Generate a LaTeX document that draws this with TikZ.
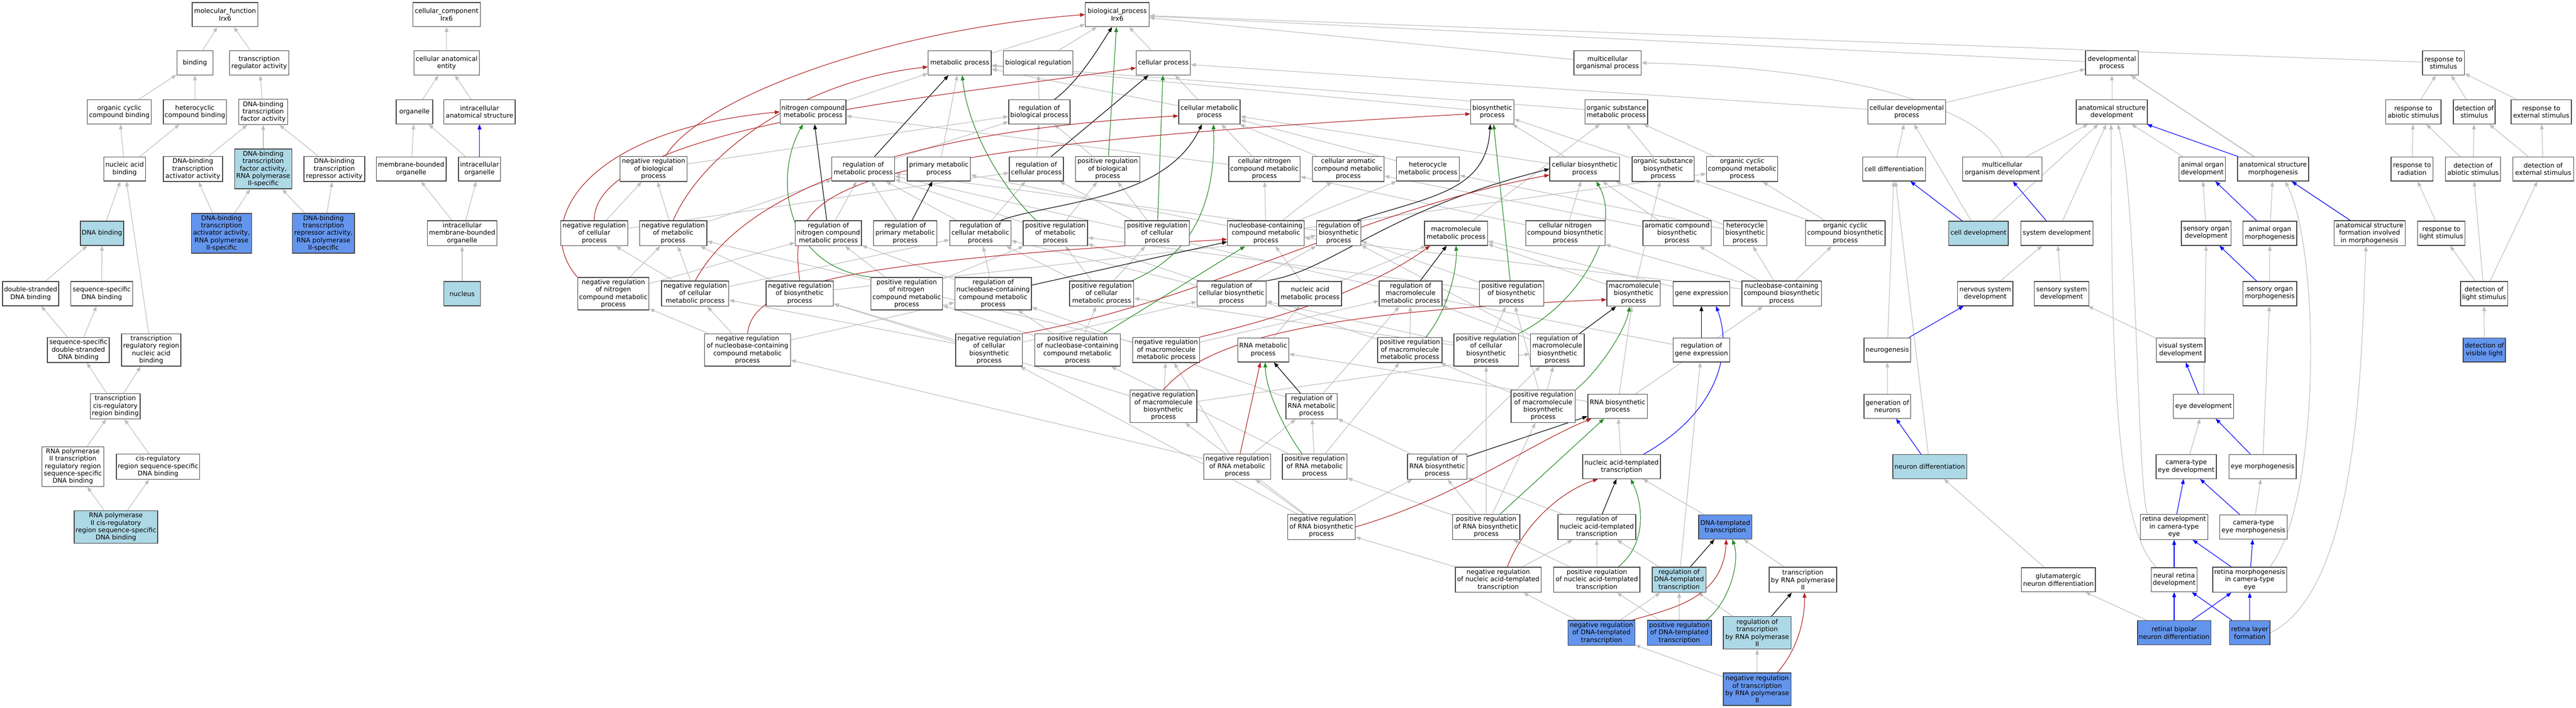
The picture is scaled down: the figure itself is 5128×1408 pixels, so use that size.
\documentclass[tikz,border=0pt]{standalone}
\usepackage{fontspec}
\setmainfont{DejaVu Sans}
\usetikzlibrary{arrows.meta}
\definecolor{edgegrey}{RGB}{190,190,190}
\definecolor{negr}{RGB}{178,34,34}
\definecolor{posg}{RGB}{34,139,34}
\definecolor{lightb}{RGB}{173,216,230}
\definecolor{cornb}{RGB}{100,149,237}
\definecolor{boxline}{RGB}{64,64,64}
\pgfdeclarelayer{bgl}
\pgfdeclarelayer{edges}
\pgfsetlayers{bgl,edges,main}
\newcommand\gonode[7]{\node[#1, minimum width=#5pt, minimum height=#6pt] (#2) at (#3,#4) {#7};}
\tikzset{
  box/.style={draw=boxline, line width=1.4pt, inner sep=0pt, align=center, fill=white, font=\fontsize{12.9}{14.7}\selectfont},
  lb/.style={box, fill=lightb},
  bb/.style={box, fill=cornb},
  isa/.style={draw=edgegrey, line width=1.2pt, -{Triangle[length=10pt,width=7.5pt]}},
  reg/.style={isa, draw=black},
  preg/.style={isa, draw=posg},
  nreg/.style={isa, draw=negr},
  partof/.style={isa, draw=blue}
}
\begin{document}
\begin{tikzpicture}[x=1pt,y=-1pt]
\begin{pgfonlayer}{bgl}
\fill[white] (0,0) rectangle (5128,1408);
\end{pgfonlayer}
\useasboundingbox (0,0) rectangle (5128,1408);
% ---------- molecular function ----------
\gonode{box}{mf}{448}{29}{131}{48}{molecular\_function\\Irx6}
\gonode{box}{binding}{388}{125}{72}{48}{binding}
\gonode{box}{trra}{516}{125}{118}{48}{transcription\\regulator activity}
\gonode{box}{occb}{237.5}{222.5}{127}{48}{organic cyclic\\compound binding}
\gonode{box}{hcb}{388}{222.5}{126}{48}{heterocyclic\\compound binding}
\gonode{box}{dbtfa}{524}{222.5}{97}{50}{DNA-binding\\transcription\\factor activity}
\gonode{box}{nab}{248}{336}{83}{48}{nucleic acid\\binding}
\gonode{box}{dbtaa}{384}{336}{118}{50}{DNA-binding\\transcription\\activator activity}
\gonode{lb}{dbtfb}{524}{336}{114}{79}{DNA-binding\\transcription\\factor activity,\\RNA polymerase\\II-specific}
\gonode{box}{dbtra}{665.5}{336}{121}{50}{DNA-binding\\transcription\\repressor activity}
\gonode{lb}{dnab}{203}{464}{86}{48}{DNA binding}
\gonode{bb}{dbtab}{441}{464}{120}{79}{DNA-binding\\transcription\\activator activity,\\RNA polymerase\\II-specific}
\gonode{bb}{dbtrb}{644}{464}{123.5}{79}{DNA-binding\\transcription\\repressor activity,\\RNA polymerase\\II-specific}
\gonode{box}{dsdb}{61}{584}{112}{48}{double-stranded\\DNA binding}
\gonode{box}{ssdb}{202.5}{584}{123}{48}{sequence-specific\\DNA binding}
\gonode{box}{ssdsdb}{156}{696}{123}{50}{sequence-specific\\double-stranded\\DNA binding}
\gonode{box}{trrnab}{301}{696}{118}{64.5}{transcription\\regulatory region\\nucleic acid\\binding}
\gonode{box}{tcrrb}{229.5}{808}{99}{50}{transcription\\cis-regulatory\\region binding}
\gonode{box}{rptrr}{145}{928}{123}{79}{RNA polymerase\\II transcription\\regulatory region\\sequence-specific\\DNA binding}
\gonode{box}{crssdb}{314.6}{928}{166}{50}{cis-regulatory\\region sequence-specific\\DNA binding}
\gonode{lb}{rpcrb}{230.7}{1048}{166}{64.5}{RNA polymerase\\II cis-regulatory\\region sequence-specific\\DNA binding}
% ---------- cellular component ----------
\gonode{box}{cc}{889}{29}{134.5}{48}{cellular\_component\\Irx6}
\gonode{box}{cae}{889}{125}{130}{48}{cellular anatomical\\entity}
\gonode{box}{organelle}{825}{222.5}{73}{48}{organelle}
\gonode{box}{iae}{954.6}{222.5}{142}{48}{intracellular\\anatomical structure}
\gonode{box}{mbo}{818.5}{336}{139}{48}{membrane-bounded\\organelle}
\gonode{box}{io}{954.6}{336}{84}{48}{intracellular\\organelle}
\gonode{box}{imbo}{920}{464}{139}{50}{intracellular\\membrane-bounded\\organelle}
\gonode{lb}{nucleus}{920}{584}{72.4}{48}{nucleus}
% ---------- biological process ----------
\gonode{box}{bp}{2224}{29}{126.7}{48}{biological\_process\\Irx6}
\gonode{box}{mp}{1910.6}{125}{125.6}{48}{metabolic process}
\gonode{box}{br}{2066.6}{125}{139}{48}{biological regulation}
\gonode{box}{cp}{2315.8}{125}{107.5}{48}{cellular process}
\gonode{box}{mop}{3200}{125}{134}{48}{multicellular\\organismal process}
\gonode{box}{dp}{4204}{125}{104.8}{48}{developmental\\process}
\gonode{box}{rts}{4864}{125}{83.4}{48}{response to\\stimulus}
\gonode{box}{ncmp}{1618.5}{222.5}{131}{48}{nitrogen compound\\metabolic process}
\gonode{box}{rbp}{2069}{222.5}{122}{48}{regulation of\\biological process}
\gonode{box}{cmp}{2407.6}{222.5}{122.3}{48}{cellular metabolic\\process}
\gonode{box}{bsp}{2970.6}{222.5}{85.6}{48}{biosynthetic\\process}
\gonode{box}{osmp}{3217.5}{222.5}{125}{48}{organic substance\\metabolic process}
\gonode{box}{cdp}{3795.7}{222.5}{155}{48}{cellular developmental\\process}
\gonode{box}{asd}{4204}{222.5}{141.5}{48}{anatomical structure\\development}
\gonode{box}{rtas}{4804}{222.5}{110.6}{48}{response to\\abiotic stimulus}
\gonode{box}{dos}{4925.4}{222.5}{83.4}{48}{detection of\\stimulus}
\gonode{box}{rtes}{5058.8}{222.5}{120}{48}{response to\\external stimulus}
% row 4
\gonode{box}{nrbp}{1301}{336}{133}{50}{negative regulation\\of biological\\process}
\gonode{box}{rmp}{1718.5}{336}{125}{48}{regulation of\\metabolic process}
\gonode{box}{pmp}{1869}{336}{126}{48}{primary metabolic\\process}
\gonode{box}{rcp}{2063}{336}{107.5}{48}{regulation of\\cellular process}
\gonode{box}{prbp}{2205}{336}{128}{50}{positive regulation\\of biological\\process}
\gonode{box}{cncmp}{2517}{336}{142}{50}{cellular nitrogen\\compound metabolic\\process}
\gonode{box}{camp}{2684}{336}{142}{50}{cellular aromatic\\compound metabolic\\process}
\gonode{box}{hcmp}{2842.4}{336}{125.6}{48}{heterocycle\\metabolic process}
\gonode{box}{cbsp}{3154.6}{336}{139}{48}{cellular biosynthetic\\process}
\gonode{box}{osbsp}{3310.8}{336}{123.4}{50}{organic substance\\biosynthetic\\process}
\gonode{box}{occmp}{3468}{336}{142}{50}{organic cyclic\\compound metabolic\\process}
\gonode{box}{cd}{3770.5}{336}{125.6}{48}{cell differentiation}
\gonode{box}{mod}{3986}{336}{158}{48}{multicellular\\organism development}
\gonode{box}{aod}{4384}{336}{92}{48}{animal organ\\development}
\gonode{box}{asm}{4525}{336}{141.6}{48}{anatomical structure\\morphogenesis}
\gonode{box}{rtr}{4801.5}{336}{83.4}{48}{response to\\radiation}
\gonode{box}{doas}{4923}{336}{110}{48}{detection of\\abiotic stimulus}
\gonode{box}{does}{5062.7}{336}{120.8}{48}{detection of\\external stimulus}
% row 5
\gonode{box}{nrcp}{1183}{464}{133}{50}{negative regulation\\of cellular\\process}
\gonode{box}{nrmp}{1340}{464}{134}{50}{negative regulation\\of metabolic\\process}
\gonode{box}{rncmp}{1649}{464}{131.7}{50}{regulation of\\nitrogen compound\\metabolic process}
\gonode{box}{rpmp}{1802}{464}{126}{50}{regulation of\\primary metabolic\\process}
\gonode{box}{rcmp}{1951.6}{464}{122}{50}{regulation of\\cellular metabolic\\process}
\gonode{box}{prmp}{2101}{464}{128}{50}{positive regulation\\of metabolic\\process}
\gonode{box}{prcp}{2303.6}{464}{128}{50}{positive regulation\\of cellular\\process}
\gonode{box}{nbcmp}{2520}{464}{153}{50}{nucleobase-containing\\compound metabolic\\process}
\gonode{box}{rbsp}{2665}{464}{88.5}{50}{regulation of\\biosynthetic\\process}
\gonode{box}{mmp}{2898.4}{464}{125.6}{48}{macromolecule\\metabolic process}
\gonode{box}{cncbsp}{3116}{464}{158}{50}{cellular nitrogen\\compound biosynthetic\\process}
\gonode{box}{acbsp}{3338.6}{464}{136}{50}{aromatic compound\\biosynthetic\\process}
\gonode{box}{hcbsp}{3474}{464}{86}{50}{heterocycle\\biosynthetic\\process}
\gonode{box}{ocbsp}{3673.4}{464}{158.5}{50}{organic cyclic\\compound biosynthetic\\process}
\gonode{lb}{celldev}{3938.6}{464}{118.5}{48}{cell development}
\gonode{box}{sd}{4094.6}{464}{144}{48}{system development}
\gonode{box}{sod}{4392}{464}{99}{48}{sensory organ\\development}
\gonode{box}{aom}{4518.5}{464}{107.4}{48}{animal organ\\morphogenesis}
\gonode{box}{asfim}{4717}{464}{141.6}{50}{anatomical structure\\formation involved\\in morphogenesis}
\gonode{box}{rtls}{4859.8}{464}{94}{48}{response to\\light stimulus}
% row 6
\gonode{box}{nrncmp}{1221}{584}{142}{64.5}{negative regulation\\of nitrogen\\compound metabolic\\process}
\gonode{box}{nrcmp}{1384}{584}{134}{50}{negative regulation\\of cellular\\metabolic process}
\gonode{box}{nrbsp}{1592}{584}{134}{50}{negative regulation\\of biosynthetic\\process}
\gonode{box}{prncmp}{1805}{584}{142.6}{64.5}{positive regulation\\of nitrogen\\compound metabolic\\process}
\gonode{box}{rnbcmp}{1977}{584}{152.5}{64.5}{regulation of\\nucleobase-containing\\compound metabolic\\process}
\gonode{box}{prcmp}{2193}{584}{128}{50}{positive regulation\\of cellular\\metabolic process}
\gonode{box}{rcbsp}{2451.7}{584}{138}{50}{regulation of\\cellular biosynthetic\\process}
\gonode{box}{name}{2608}{584}{125}{48}{nucleic acid\\metabolic process}
\gonode{box}{rmmp}{2808}{584}{125}{50}{regulation of\\macromolecule\\metabolic process}
\gonode{box}{prbsp}{3009}{584}{128}{50}{positive regulation\\of biosynthetic\\process}
\gonode{box}{mbsp}{3252}{584}{106.4}{50}{macromolecule\\biosynthetic\\process}
\gonode{box}{ge}{3387}{584}{112.6}{48}{gene expression}
\gonode{box}{nbcbsp}{3546.7}{584}{158.5}{50}{nucleobase-containing\\compound biosynthetic\\process}
\gonode{box}{nsd}{3952}{584}{110}{48}{nervous system\\development}
\gonode{box}{ssd}{4104}{584}{109}{48}{sensory system\\development}
\gonode{box}{som}{4518.5}{584}{107.4}{48}{sensory organ\\morphogenesis}
\gonode{box}{dols}{4945}{584}{93.5}{48}{detection of\\light stimulus}
% row 7
\gonode{box}{nrnbcmp}{1488}{696}{171}{64.5}{negative regulation\\of nucleobase-containing\\compound metabolic\\process}
\gonode{box}{nrcbsp}{1969}{696}{133}{64.5}{negative regulation\\of cellular\\biosynthetic\\process}
\gonode{box}{prnbcmp}{2145}{696}{170.6}{64.5}{positive regulation\\of nucleobase-containing\\compound metabolic\\process}
\gonode{box}{nrmms}{2321.5}{696}{133}{50}{negative regulation\\of macromolecule\\metabolic process}
\gonode{box}{rnamp}{2514.5}{696}{101.5}{48}{RNA metabolic\\process}
\gonode{box}{prmms}{2806.5}{696}{128}{50}{positive regulation\\of macromolecule\\metabolic process}
\gonode{box}{prcbsp}{2958.6}{696}{129}{64.5}{positive regulation\\of cellular\\biosynthetic\\process}
\gonode{box}{rmbsp}{3100}{696}{107.5}{64.5}{regulation of\\macromolecule\\biosynthetic\\process}
\gonode{box}{rge}{3387}{696}{112.6}{48}{regulation of\\gene expression}
\gonode{box}{neurog}{3757}{696}{93}{48}{neurogenesis}
\gonode{box}{vsd}{4341}{696}{97}{48}{visual system\\development}
\gonode{bb}{dovl}{4945.5}{696}{84}{48}{detection of\\visible light}
% row 8
\gonode{box}{nrmbs}{2316}{808}{133}{64.5}{negative regulation\\of macromolecule\\biosynthetic\\process}
\gonode{box}{rrnamp}{2611}{808}{102}{50}{regulation of\\RNA metabolic\\process}
\gonode{box}{prmbsp}{3072}{808}{128}{64.5}{positive regulation\\of macromolecule\\biosynthetic\\process}
\gonode{box}{rnabsp}{3220}{808}{118.5}{48}{RNA biosynthetic\\process}
\gonode{box}{gon}{3757}{808}{93}{48}{generation of\\neurons}
\gonode{box}{eyedev}{4386.5}{808}{120}{48}{eye development}
% row 9
\gonode{box}{nrrnamp}{2463}{928}{133}{50}{negative regulation\\of RNA metabolic\\process}
\gonode{box}{prrnamp}{2617}{928}{128.5}{50}{positive regulation\\of RNA metabolic\\process}
\gonode{box}{rrnabsp}{2861}{928}{118.5}{50}{regulation of\\RNA biosynthetic\\process}
\gonode{box}{natt}{3228}{928}{155}{48}{nucleic acid-templated\\transcription}
\gonode{lb}{nd}{3841.5}{928}{147}{48}{neuron differentiation}
\gonode{box}{ctedev}{4352}{928}{120}{48}{camera-type\\eye development}
\gonode{box}{em}{4504}{928}{134}{48}{eye morphogenesis}
% row 10
\gonode{box}{nrrnabsp}{2630.5}{1048}{134}{50}{negative regulation\\of RNA biosynthetic\\process}
\gonode{box}{prrnabsp}{2958.5}{1048}{134}{50}{positive regulation\\of RNA biosynthetic\\process}
\gonode{box}{rnatt}{3178.7}{1048}{155}{50}{regulation of\\nucleic acid-templated\\transcription}
\gonode{bb}{dtt}{3434.5}{1048}{106}{48}{DNA-templated\\transcription}
\gonode{box}{rdcte}{4328}{1048}{134}{50}{retina development\\in camera-type\\eye}
\gonode{box}{ctem}{4486}{1048}{134}{48}{camera-type\\eye morphogenesis}
% row 11
\gonode{box}{nrnatt}{2982.6}{1153}{171}{50}{negative regulation\\of nucleic acid-templated\\transcription}
\gonode{box}{prnatt}{3178.7}{1153}{171.7}{50}{positive regulation\\of nucleic acid-templated\\transcription}
\gonode{lb}{rdtt}{3342.5}{1153}{107}{50}{regulation of\\DNA-templated\\transcription}
\gonode{box}{trp}{3589}{1153}{134.4}{50}{transcription\\by RNA polymerase\\II}
\gonode{box}{gnd}{4097.5}{1153}{147}{48}{glutamatergic\\neuron differentiation}
\gonode{box}{nrd}{4328}{1153}{91}{48}{neural retina\\development}
\gonode{box}{rmcte}{4478.5}{1153}{147}{50}{retina morphogenesis\\in camera-type\\eye}
% row 12
\gonode{bb}{nrdtt}{3188}{1258.6}{133}{50}{negative regulation\\of DNA-templated\\transcription}
\gonode{bb}{prdtt}{3343}{1258.6}{128}{50}{positive regulation\\of DNA-templated\\transcription}
\gonode{lb}{rtrp}{3498}{1258.6}{134.6}{64.5}{regulation of\\transcription\\by RNA polymerase\\II}
\gonode{bb}{rbnd}{4328}{1258.6}{146}{48}{retinal bipolar\\neuron differentiation}
\gonode{bb}{rlf}{4478.5}{1258.6}{80.7}{48}{retina layer\\formation}
% row 13
\gonode{bb}{nrtrp}{3498}{1370.6}{134.6}{64.5}{negative regulation\\of transcription\\by RNA polymerase\\II}
% ---------- edges ----------
\begin{pgfonlayer}{edges}
\foreach \a/\b in {binding/mf, trra/mf, occb/binding, hcb/binding, dbtfa/trra, nab/occb, nab/hcb, dbtaa/dbtfa, dbtfb/dbtfa, dbtra/dbtfa, dnab/nab, trrnab/nab, dbtab/dbtaa, dbtab/dbtfb, dbtrb/dbtfb, dbtrb/dbtra, dsdb/dnab, ssdb/dnab, ssdsdb/dsdb, ssdsdb/ssdb, tcrrb/ssdsdb, tcrrb/trrnab, rptrr/tcrrb, crssdb/tcrrb, rpcrb/rptrr, rpcrb/crssdb,
cae/cc, organelle/cae, iae/cae, mbo/organelle, io/organelle, imbo/mbo, imbo/io, nucleus/imbo,
mp/bp, br/bp, cp/bp, mop/bp, dp/bp, rts/bp, rbp/br, cmp/mp, cmp/cp, ncmp/mp, bsp/mp, osmp/mp, pmp/mp,
nrbp/rbp, prbp/rbp, rmp/rbp, rcp/rbp, cncmp/ncmp, cncmp/cmp, camp/cmp, hcmp/cmp, cbsp/cmp, cbsp/bsp, osbsp/osmp, osbsp/bsp, occmp/osmp,
rpmp/rmp, rcmp/rmp, rcmp/rcp, prmp/rmp, prmp/prbp, prcp/rcp, prcp/prbp, nrcp/nrbp, nrcp/rcp, nrmp/nrbp, nrmp/rmp, rncmp/rmp,
nbcmp/cncmp, nbcmp/hcmp, nbcmp/camp, nbcmp/occmp, nbcmp/pmp, rbsp/rmp, mmp/osmp,
cncbsp/cncmp, cncbsp/cbsp, acbsp/camp, acbsp/cbsp, hcbsp/hcmp, hcbsp/cbsp, ocbsp/occmp, ocbsp/osbsp,
nrncmp/nrmp, nrncmp/rncmp, nrcmp/nrcp, nrcmp/nrmp, nrcmp/rcmp, nrbsp/nrmp, nrbsp/rbsp, prncmp/prmp, prncmp/rncmp, rnbcmp/rncmp, rnbcmp/rcmp, prcmp/prcp, prcmp/prmp, prcmp/rcmp, rcbsp/rcmp, rcbsp/rbsp, name/nbcmp, name/mmp, rmmp/rmp, prbsp/prmp, prbsp/rbsp, mbsp/mmp, mbsp/osbsp, ge/mmp,
nbcbsp/nbcmp, nbcbsp/cncbsp, nbcbsp/acbsp, nbcbsp/hcbsp, nbcbsp/ocbsp,
nrnbcmp/nrcmp, nrnbcmp/nrncmp, nrnbcmp/rnbcmp, nrcbsp/nrcmp, nrcbsp/nrbsp, nrcbsp/rcbsp, prnbcmp/prcmp, prnbcmp/prncmp, prnbcmp/rnbcmp, nrmms/nrmp, nrmms/rmmp, rnamp/name, prmms/prmp, prmms/rmmp, prcbsp/prcmp, prcbsp/prbsp, prcbsp/rcbsp, rmbsp/rmmp, rmbsp/rbsp, rge/rmmp,
nrmbs/nrmms, nrmbs/nrbsp, nrmbs/rmbsp, rrnamp/rnbcmp, rrnamp/rmmp, prmbsp/prmms, prmbsp/prbsp, prmbsp/rmbsp, rnabsp/rnamp, rnabsp/mbsp, rnabsp/nbcbsp,
nrrnamp/nrnbcmp, nrrnamp/rrnamp, nrrnamp/nrmms, prrnamp/prnbcmp, prrnamp/rrnamp, prrnamp/prmms, rrnabsp/rrnamp, rrnabsp/rmbsp, natt/rnabsp,
nrrnabsp/nrrnamp, nrrnabsp/rrnabsp, nrrnabsp/nrmbs, nrrnabsp/nrcbsp, prrnabsp/prrnamp, prrnabsp/rrnabsp, prrnabsp/prmbsp, prrnabsp/prcbsp, rnatt/rrnabsp, dtt/natt,
nrnatt/nrrnabsp, nrnatt/rnatt, prnatt/prrnabsp, prnatt/rnatt, rdtt/rnatt, rdtt/rge, trp/dtt,
nrdtt/nrnatt, nrdtt/rdtt, prdtt/prnatt, prdtt/rdtt, rtrp/rdtt, nrtrp/rtrp, nrtrp/nrdtt,
cdp/cp, cdp/dp, asd/dp, cd/cdp, mod/asd, celldev/cdp, celldev/asd, sd/asd, nsd/sd, ssd/sd, neurog/cd, gon/neurog, nd/cd, gnd/nd, aod/asd, asm/dp, asfim/dp, sod/aod, aom/asm, eyedev/sod, em/som, vsd/ssd, ctedev/eyedev, ctem/em, rbnd/gnd, som/aom,
rtas/rts, dos/rts, rtes/rts, rtr/rtas, doas/rtas, doas/dos, does/dos, does/rtes, rtls/rtr, dols/rtls, dols/doas, dols/does, dovl/dols}
  \draw[isa] (\a) -- (\b);
% curved grey edges
\draw[isa] (rlf.east) .. controls (4700,1170) and (4700,700) .. ([xshift=-7pt]asfim.south);
\draw[isa] ([xshift=40pt]rmcte.north) .. controls (4620,1000) and (4620,500) .. ([xshift=24pt]asm.south);
\draw[isa] ([xshift=-53pt]rdcte.north) .. controls (4255,980) and (4255,400) .. ([xshift=12pt]asd.south);
\draw[isa] ([xshift=-35pt]nrd.north) .. controls (4210,1050) and (4203,700) .. ([xshift=-1.5pt]asd.south);
\draw[isa] (mod.north) .. controls (3950,220) and (3700,135) .. (mop.east);
% regulates (black)
\foreach \a/\b in {rmp/mp, rcp/cp, rpmp/pmp, rncmp/ncmp, rnbcmp/nbcmp, rmmp/mmp, rmbsp/mbsp, rge/ge, rrnamp/rnamp, rrnabsp/rnabsp, rnatt/natt, rdtt/dtt, rtrp/trp}
  \draw[reg] (\a) -- (\b);
\draw[reg] ([xshift=30pt]rbp.north) .. controls (2150,160) and (2190,90) .. ([xshift=-10pt]bp.south);
\draw[reg] ([xshift=40pt]rcmp.north) .. controls (2100,400) and (2320,400) .. ([xshift=-15pt]cmp.south);
\draw[reg] ([xshift=36pt]rbsp.north) .. controls (2850,390) and (2960,380) .. ([xshift=-4pt]bsp.south);
\draw[reg] (rcbsp.north east) .. controls (2650,540) and (2750,420) .. (cbsp.west);
% positively regulates (green)
\foreach \a/\b in {prbp/bp, prcp/cp, prnbcmp/nbcmp, prbsp/bsp, prrnabsp/rnabsp}
  \draw[preg] (\a) -- (\b);
\draw[preg] ([xshift=-38pt]prmp.north) .. controls (1990,370) and (1925,250) .. ([xshift=5pt]mp.south);
\draw[preg] ([xshift=60pt]prcmp.north) .. controls (2390,500) and (2420,380) .. ([xshift=8pt]cmp.south);
\draw[preg] (prncmp.north west) .. controls (1560,530) and (1540,350) .. ([xshift=-20pt]ncmp.south);
\draw[preg] (prcbsp.north east) .. controls (3150,600) and (3230,450) .. ([xshift=23pt]cbsp.south);
\draw[preg] ([xshift=32pt]prmms.north) .. controls (2880,620) and (2901,540) .. (mmp.south);
\draw[preg] (prmbsp.north east) .. controls (3180,740) and (3235,660) .. ([xshift=-8pt]mbsp.south);
\draw[preg] ([xshift=-25pt]prrnamp.north) .. controls (2560,860) and (2520,780) .. ([xshift=4pt]rnamp.south);
\draw[preg] ([xshift=43pt]prnatt.north) .. controls (3280,1080) and (3270,1000) .. ([xshift=18pt]natt.south);
\draw[preg] ([xshift=54pt]prdtt.north) .. controls (3440,1200) and (3465,1120) .. ([xshift=14pt]dtt.south);
% negatively regulates (red)
\draw[nreg] (nrrnamp) -- (rnamp);
\draw[nreg] ([xshift=24pt]nrbp.north) .. controls (1390,200) and (1750,60) .. (bp.west);
\draw[nreg] (nrmp.north) .. controls (1400,300) and (1600,160) .. ([yshift=-8pt]mp.west);
\draw[nreg] (nrcp.north) .. controls (1180,250) and (1900,190) .. ([yshift=-10pt]cp.west);
\draw[nreg] (nrcmp.north) .. controls (1480,380) and (1800,260) .. ([yshift=-8pt]cmp.west);
\draw[nreg] (nrncmp.north west) .. controls (1060,450) and (1150,260) .. (ncmp.west);
\draw[nreg] (nrbsp.north) .. controls (1570,380) and (1600,300) .. ([yshift=-4pt]bsp.west);
\draw[nreg] (nrnbcmp.north) .. controls (1500,560) and (1700,520) .. ([yshift=-12pt]nbcmp.west);
\draw[nreg] (nrcbsp.north east) .. controls (2400,600) and (2700,420) .. ([yshift=-12pt]cbsp.west);
\draw[nreg] (nrmms.north east) .. controls (2600,620) and (2750,560) .. ([xshift=12pt]mmp.south west);
\draw[nreg] (nrmbs.north) .. controls (2400,680) and (2600,620) .. ([yshift=-12pt]mbsp.west);
\draw[nreg] (nrrnabsp.east) .. controls (2900,990) and (3050,880) .. ([xshift=8pt]rnabsp.south west);
\draw[nreg] ([xshift=18pt]nrnatt.north) .. controls (3030,1050) and (3100,980) .. ([xshift=-47pt]natt.south);
\draw[nreg] ([xshift=62pt]nrdtt.north) .. controls (3330,1210) and (3430,1190) .. ([xshift=2pt]dtt.south);
\draw[nreg] ([xshift=40pt]nrtrp.north) .. controls (3580,1290) and (3593,1230) .. ([xshift=3pt]trp.south);
% part of (blue)
\foreach \a/\b in {io/iae, celldev/cd, sd/mod, neurog/nsd, nd/gon, asm/asd, aom/aod, asfim/asm, som/sod, eyedev/vsd, em/eyedev, rdcte/ctedev, ctem/ctedev, rmcte/ctem, nrd/rdcte, rmcte/rdcte, rbnd/nrd, rlf/nrd, rbnd/rmcte, rlf/rmcte}
  \draw[partof] (\a) -- (\b);
\draw[partof] ([xshift=44pt]natt.north) .. controls (3420,820) and (3450,700) .. ([xshift=29pt]ge.south);
\end{pgfonlayer}
\end{tikzpicture}
\end{document}
